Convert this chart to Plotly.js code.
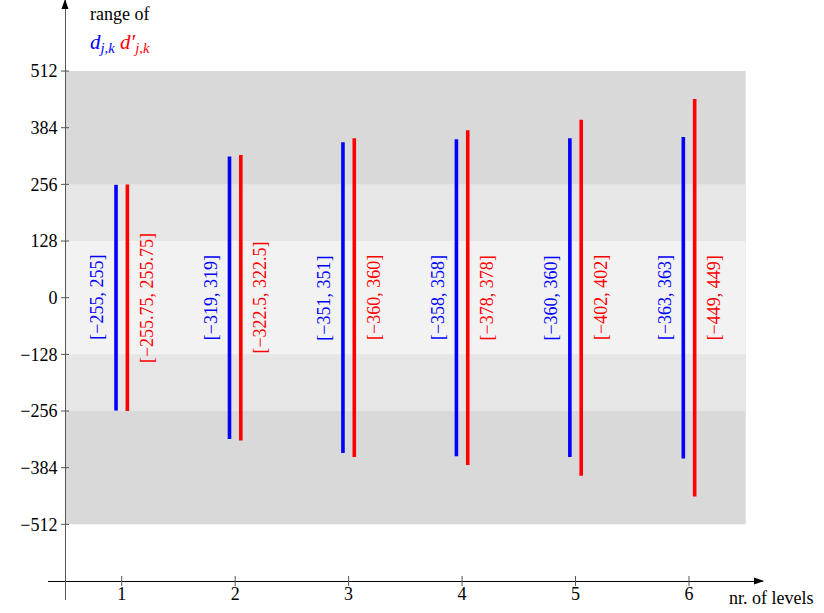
<!DOCTYPE html>
<html>
<head>
<meta charset="utf-8">
<script src="https://cdn.plot.ly/plotly-3.0.1.min.js"></script>
<style>html,body{margin:0;padding:0;background:#fff;}</style>
</head>
<body>
<div id="chart" style="width:824px;height:613px;"></div>
<script>
// ---- data ----
const levels = [1, 2, 3, 4, 5, 6];
const dRange = [255, 319, 351, 358, 360, 363];          // d_{j,k}
const dPrimeRange = [255.75, 322.5, 360, 378, 402, 449]; // d'_{j,k}
const dLabels = ["[−255, 255]", "[−319, 319]", "[−351, 351]", "[−358, 358]", "[−360, 360]", "[−363, 363]"];
const dPrimeLabels = ["[−255.75, 255.75]", "[−322.5, 322.5]", "[−360, 360]", "[−378, 378]", "[−402, 402]", "[−449, 449]"];
const yTickVals = [-512, -384, -256, -128, 0, 128, 256, 384, 512];
const yTickText = ["−512", "−384", "−256", "−128", "0", "128", "256", "384", "512"];
const xTickVals = [1, 2, 3, 4, 5, 6];
const xTickText = ["1", "2", "3", "4", "5", "6"];
const bands = [[-512, 512, "#d9d9d9"], [-256, 256, "#e6e6e6"], [-128, 128, "#f2f2f2"]];

// ---- layout constants ----
const FONT = "'Liberation Serif', 'Times New Roman', serif";
const OFF = 0.05;
const xAxisPos = (600 - 581) / 600;
const yAxisPos = 17 / 715;

function segs(vals, off) {
  const x = [], y = [];
  levels.forEach((l, i) => { x.push(l + off, l + off, null); y.push(-vals[i], vals[i], null); });
  return {x, y};
}
const b = segs(dRange, -OFF), r = segs(dPrimeRange, OFF);
const traces = [
  {type: "scatter", mode: "lines", x: b.x, y: b.y, line: {color: "#0000ff", width: 3.6}, hoverinfo: "skip", cliponaxis: false},
  {type: "scatter", mode: "lines", x: r.x, y: r.y, line: {color: "#ff0000", width: 3.6}, hoverinfo: "skip", cliponaxis: false}
];

const shapes = [];
bands.forEach(bd => shapes.push({type: "rect", layer: "below", xref: "x", yref: "y", x0: 0.5, x1: 6.5, y0: bd[0], y1: bd[1], fillcolor: bd[2], line: {width: 0}}));
// crossing tick marks
yTickVals.forEach(v => shapes.push({type: "line", xref: "paper", yref: "y", xsizemode: "pixel", xanchor: yAxisPos, x0: -4, x1: 4, y0: v, y1: v, line: {color: "#555", width: 1}}));
xTickVals.forEach(v => shapes.push({type: "line", xref: "x", yref: "paper", ysizemode: "pixel", yanchor: xAxisPos, y0: -5, y1: 5, x0: v, x1: v, line: {color: "#555", width: 1}}));
// arrowheads
shapes.push({type: "path", xref: "paper", yref: "paper", xsizemode: "pixel", ysizemode: "pixel", xanchor: 1, yanchor: xAxisPos, path: "M 1,0 L -9,3.5 L -9,-3.5 Z", fillcolor: "#000", line: {width: 0}});
shapes.push({type: "path", xref: "paper", yref: "paper", xsizemode: "pixel", ysizemode: "pixel", xanchor: yAxisPos, yanchor: 1, path: "M 0,1 L -3.5,-9 L 3.5,-9 Z", fillcolor: "#000", line: {width: 0}});

const annotations = [];
levels.forEach((l, i) => {
  annotations.push({x: l - OFF, y: 0, xref: "x", yref: "y", text: dLabels[i], showarrow: false, textangle: -90, xshift: -19, font: {family: FONT, size: 18, color: "#0000ff"}});
  annotations.push({x: l + OFF, y: 0, xref: "x", yref: "y", text: dPrimeLabels[i], showarrow: false, textangle: -90, xshift: 19, font: {family: FONT, size: 18, color: "#ff0000"}});
});
annotations.push({x: 0.703, y: 641, xref: "x", yref: "y", xanchor: "left", text: "range of", showarrow: false, font: {family: FONT, size: 18, color: "#000"}});
annotations.push({x: 0.703, y: 575, xref: "x", yref: "y", xanchor: "left", text: '<span style="color:#0000ff"><i>d</i><sub><i>j,k</i></sub></span> <span style="color:#ff0000"><i>d′</i><sub><i>j,k</i></sub></span>', showarrow: false, font: {family: FONT, size: 21}});
annotations.push({x: (727 - 48) / 715, y: (600 - 598) / 600, xref: "paper", yref: "paper", xanchor: "left", yanchor: "middle", text: "nr. of levels", showarrow: false, font: {family: FONT, size: 18, color: "#000"}});

const layout = {
  width: 824, height: 613,
  margin: {l: 48, r: 61, t: 0, b: 13},
  paper_bgcolor: "#fff", plot_bgcolor: "#fff",
  showlegend: false,
  font: {family: FONT, size: 18, color: "#000"},
  xaxis: {range: [1 - (121.7 - 48) / 113.46, 6 + (763 - 689) / 113.46], domain: [0, 1], anchor: "free", position: xAxisPos,
          showgrid: false, zeroline: false, showline: true, linecolor: "#000", linewidth: 1,
          tickmode: "array", tickvals: xTickVals, ticktext: xTickText, ticks: "", ticklabelstandoff: -4,
          tickfont: {family: FONT, size: 18, color: "#000"}},
  yaxis: {range: [-682.9, 672.5], domain: [0, 1], anchor: "free", position: yAxisPos,
          showgrid: false, zeroline: false, showline: true, linecolor: "#555", linewidth: 1,
          tickmode: "array", tickvals: yTickVals, ticktext: yTickText, ticks: "outside", ticklen: 4, tickcolor: "rgba(0,0,0,0)",
          tickfont: {family: FONT, size: 18, color: "#000"}},
  shapes: shapes,
  annotations: annotations
};
Plotly.newPlot("chart", traces, layout, {staticPlot: true});
</script>
</body>
</html>
